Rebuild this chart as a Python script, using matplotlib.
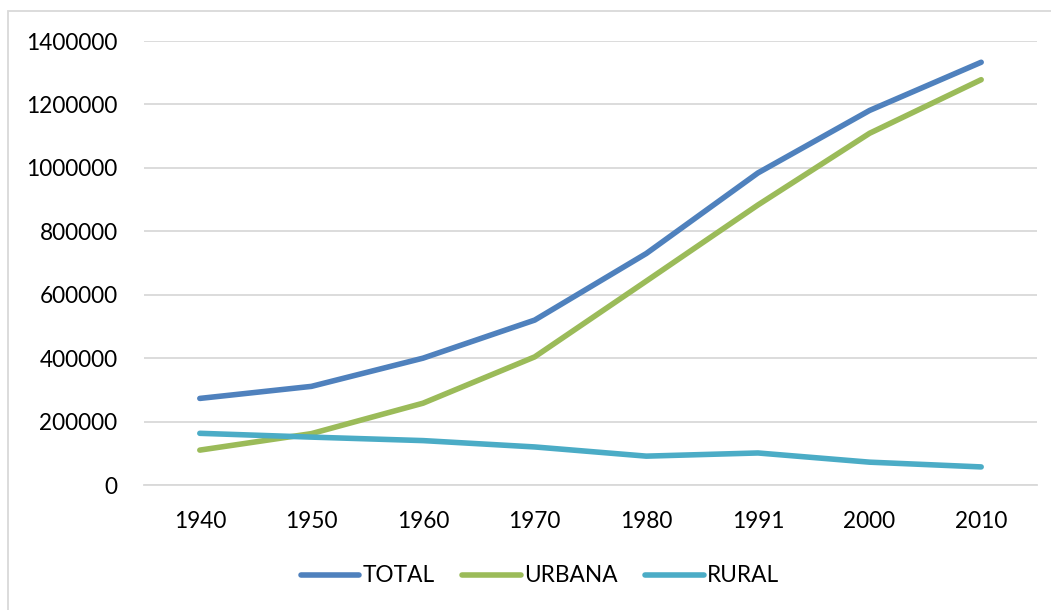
import numpy as np
import matplotlib
matplotlib.use("Agg")
from matplotlib import pyplot as plt
from matplotlib.patches import Rectangle

years = ["1940", "1950", "1960", "1970", "1980", "1991", "2000", "2010"]
total = [273000, 311000, 400000, 520000, 730000, 984000, 1181000, 1333000]
urbana = [110000, 162000, 258000, 404000, 643000, 883000, 1109000, 1278000]
rural = [163000, 151000, 140000, 120000, 91000, 101000, 72000, 57000]

plt.rcParams["font.family"] = ["Lato", "DejaVu Sans"]

fig = plt.figure(figsize=(10.51, 6.1), dpi=100)
ax = fig.add_axes([144 / 1051, 1 - 485 / 610, (1037 - 144) / 1051, (485 - 41) / 610])

x = np.arange(len(years))
lw = 4.0
ax.plot(x, total, color="#4F81BD", lw=lw, solid_capstyle="round", solid_joinstyle="round", label="TOTAL", zorder=3)
ax.plot(x, urbana, color="#9BBB59", lw=lw, solid_capstyle="round", solid_joinstyle="round", label="URBANA", zorder=3)
ax.plot(x, rural, color="#4BACC6", lw=lw, solid_capstyle="round", solid_joinstyle="round", label="RURAL", zorder=3)

ax.set_xlim(-0.5, len(years) - 0.5)
ax.set_ylim(0, 1400000)
ax.set_yticks(np.arange(0, 1400001, 200000))
ax.set_yticklabels([str(v) for v in range(0, 1400001, 200000)])
ax.set_xticks(x)
ax.set_xticklabels(years)
ax.yaxis.grid(True, color="#D9D9D9", lw=1.3)
ax.set_axisbelow(True)
for s in ["top", "right", "left"]:
    ax.spines[s].set_visible(False)
ax.spines["bottom"].set_color("#D9D9D9")
ax.spines["bottom"].set_linewidth(1.3)
ax.tick_params(axis="both", length=0, labelsize=16.3, colors="#000000")
ax.tick_params(axis="y", pad=19)
ax.tick_params(axis="x", pad=19)

# chart border
fig.patches.append(Rectangle((8 / 1051, -0.1), 1.2, 1 - 11 / 610 + 0.1, transform=fig.transFigure,
                             fill=False, edgecolor="#D9D9D9", lw=1.3))

fig.legend(loc="center", bbox_to_anchor=(540 / 1051, 1 - 576 / 610), ncol=3, frameon=False,
           fontsize=16.3, handlelength=2.6, handletextpad=0.15, columnspacing=1.2)

fig.savefig("out.png", dpi=100)
